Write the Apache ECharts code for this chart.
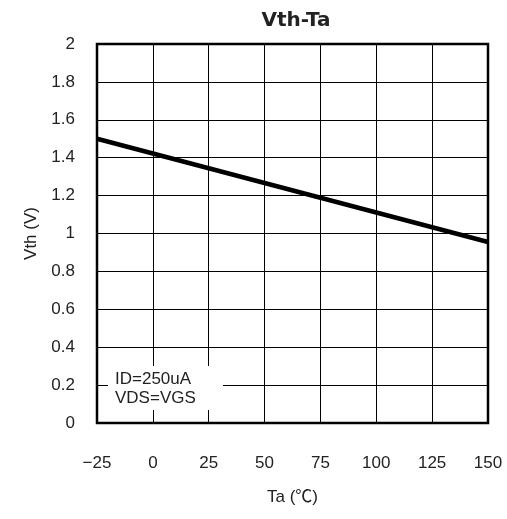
<!DOCTYPE html>
<html><head><meta charset="utf-8">
<script src="https://cdn.jsdelivr.net/npm/echarts@6/dist/echarts.min.js"></script>
<style>html,body{margin:0;padding:0;background:#fff}#c{width:507px;height:519px}</style>
</head><body><div id="c"></div>
<script>
const ta = [-25, 150];
const vth = [1.5, 0.955];
const xTicks = [-25, 0, 25, 50, 75, 100, 125, 150];
const yTicks = [0, 0.2, 0.4, 0.6, 0.8, 1, 1.2, 1.4, 1.6, 1.8, 2];
const titleText = 'Vth-Ta';
const xName = 'Ta (℃)';
const yName = 'Vth (V)';
const noteLines = ['ID=250uA', 'VDS=VGS'];

const FONT = '"Liberation Sans", "Noto Sans CJK JP", sans-serif';
const TFONT = '"DejaVu Sans", sans-serif';
const chart = echarts.init(document.getElementById('c'), null, {renderer: 'canvas'});
chart.setOption({
  animation: false,
  backgroundColor: '#fff',
  title: {text: titleText, left: 291, top: 6, textAlign: 'center',
    textStyle: {fontFamily: TFONT, fontSize: 20, fontWeight: 'bold', color: '#222'}},
  grid: {left: 97, right: 19, top: 44, bottom: 96, show: true, borderColor: '#000', borderWidth: 2.5, backgroundColor: 'transparent'},
  xAxis: {type: 'value', min: -25, max: 150, interval: 25,
    name: xName, nameLocation: 'middle', nameGap: 66,
    nameTextStyle: {fontFamily: FONT, fontSize: 17, color: '#222'},
    axisLine: {show: false}, axisTick: {show: false},
    axisLabel: {margin: 32, fontFamily: FONT, fontSize: 17, color: '#222',
      formatter: v => (v < 0 ? '\u2212' + Math.abs(v) : String(v))},
    splitLine: {show: true, lineStyle: {color: '#000', width: 1}}},
  yAxis: {type: 'value', min: 0, max: 2, interval: 0.2,
    name: yName, nameLocation: 'middle', nameGap: 57, nameRotate: 90,
    nameTextStyle: {fontFamily: FONT, fontSize: 17, color: '#222'},
    axisLine: {show: false}, axisTick: {show: false},
    axisLabel: {margin: 22, fontFamily: FONT, fontSize: 17, color: '#222',
      formatter: v => String(Math.round(v * 10) / 10)},
    splitLine: {show: true, lineStyle: {color: '#000', width: 1}}},
  series: [{type: 'line', data: ta.map((t, i) => [t, vth[i]]), symbol: 'none',
    lineStyle: {color: '#000', width: 4.5}, z: 3}],
  graphic: [
    {type: 'rect', left: 108, top: 366, shape: {width: 115, height: 44}, style: {fill: '#fff'}, z: 10},
    {type: 'text', left: 115, top: 370, z: 11,
      style: {text: noteLines.join('\n'), fontFamily: FONT, fontSize: 17, lineHeight: 19, fill: '#222'}}
  ]
});
</script></body></html>
